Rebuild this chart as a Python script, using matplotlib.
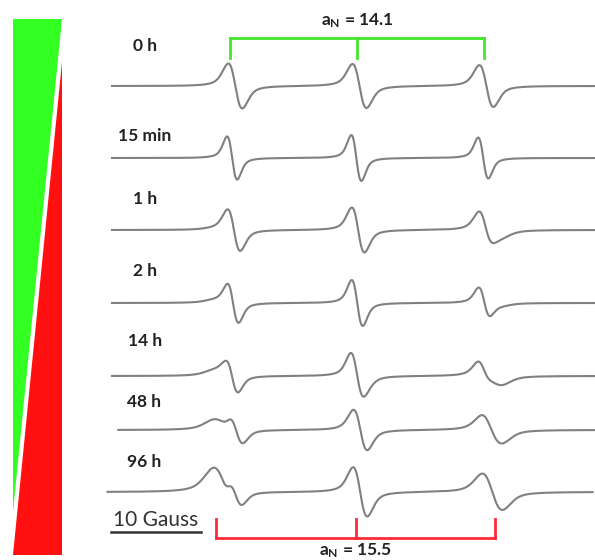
import numpy as np
import matplotlib.pyplot as plt
from matplotlib.patches import Polygon

plt.rcParams['font.family'] = ['Lato', 'DejaVu Sans']
plt.rcParams['mathtext.fontset'] = 'custom'
plt.rcParams['mathtext.rm'] = 'Lato'
plt.rcParams['mathtext.bf'] = 'Lato:bold'

# --- data ---
times = ['0 h', '15 min', '1 h', '2 h', '14 h', '48 h', '96 h']

# hyperfine line positions (Gauss, relative to the centre line)
green_centers = [-13.8, 0.0, 14.1]      # a_N = 14.1 species
red_centers = [-15.05, 0.1, 14.8]       # a_N = 15.5 species
red_width_lo = [2.4, 1.6, 2.2]          # half-widths below / above centre, as pp widths (G)
red_width_hi = [1.0, 1.6, 2.2]
red_skew = [0.3, 1.0, 1.0]              # negative lobe / positive lobe

# peak-to-peak heights (a.u.) of each line, one value per spectrum
green_l1 = [1.0, 0.96, 0.93, 0.88, 0.72, 0.58, 0.55]
green_l2 = [0.98, 1.02, 1.0, 1.02, 0.75, 0.45, 0.25]
green_l3 = [0.93, 0.91, 0.6, 0.62, 0.35, 0.12, 0.05]
red_l1 = [0.0, 0.0, 0.04, 0.09, 0.2, 0.4, 1.0]
red_l2 = [0.0, 0.0, 0.0, 0.0, 0.3, 0.45, 0.85]
red_l3 = [0.0, 0.0, 0.25, 0.08, 0.35, 0.55, 0.78]

green_width = [1.55, 1.12, 1.4, 1.22, 1.3, 1.45, 1.45]   # G
field_shift = [0.0, -0.35, -0.15, -0.25, -0.35, 0.1, 0.0]  # G
sweep_start = [-27.5, -27.5, -27.5, -27.5, -27.5, -26.8, -28.0]
sweep_end = [26.2, 26.2, 26.2, 26.2, 26.2, 26.2, 25.9]

aN_green = 14.1
aN_red = 15.5
scale_gauss = 10

# --- layout (pixels) ---
W, H = 595, 560
PX_PER_G = 9.0
X0 = 359.5
PX_PER_AU = 45
baseline_px = [86, 158, 230, 303, 376, 430, 492]
label_x = [133, 118, 133, 133, 128, 127, 127]
label_y = [46, 136, 199, 271, 341, 402, 462]

GREEN = '#33ff22'
RED = '#ff1111'
GREEN_BR = '#44e62a'
RED_BR = '#ff2a3a'
TRACE = '#808080'
TXT = '#222222'
ETA = 0.5   # Lorentzian fraction of the line shape


def dline(x, c, w):
    # first-derivative pseudo-Voigt, peak-to-peak height 1, peak-to-peak width w
    gl = w * np.sqrt(3) / 2
    u = (x - c) / gl
    lor = -u / (1 + u ** 2) ** 2 / 0.6495
    v = (x - c) / (w / 2)
    gau = -v * np.exp(-v ** 2 / 2) / 1.2131
    return ETA * lor + (1 - ETA) * gau


def red_line(x, k, amp):
    lo = dline(x, red_centers[k], red_width_lo[k])
    hi = dline(x, red_centers[k], red_width_hi[k]) * red_skew[k]
    return amp * np.where(x < red_centers[k], lo, hi)


fig = plt.figure(figsize=(W / 100, H / 100), dpi=100)

# decorations in pixel coordinates
deco = fig.add_axes([0, 0, 1, 1])
deco.set_xlim(0, W)
deco.set_ylim(H, 0)
deco.axis('off')
deco.add_patch(Polygon([[13, 19], [62, 19], [13, 512]], closed=True, color=GREEN, lw=0))
deco.add_patch(Polygon([[62, 62], [62, 555], [13, 555]], closed=True, color=RED, lw=0))

# spectra in Gauss
ax = fig.add_axes([0, 0, 1, 1])
ax.set_xlim(-X0 / PX_PER_G, (W - X0) / PX_PER_G)
ax.set_ylim(H, 0)
ax.axis('off')
ax.patch.set_alpha(0)

green_amp = np.array([green_l1, green_l2, green_l3]).T
red_amp = np.array([red_l1, red_l2, red_l3]).T

for i, t in enumerate(times):
    B = np.linspace(sweep_start[i], sweep_end[i], 1500)
    sig = np.zeros_like(B)
    for k in range(3):
        sig += green_amp[i, k] * dline(B, green_centers[k] + field_shift[i], green_width[i])
        sig += red_line(B, k, red_amp[i, k])
    ax.plot(B, baseline_px[i] - PX_PER_AU * sig, color=TRACE, lw=1.5)
    deco.text(label_x[i], label_y[i], t, fontsize=12.5, fontweight='bold',
              color=TXT, ha='left', va='center')

# hyperfine brackets
mid_g = -0.3
gx = [mid_g - aN_green, mid_g, mid_g + aN_green]
ax.plot([gx[0], gx[2]], [38, 38], color=GREEN_BR, lw=2)
for x in gx:
    ax.plot([x, x], [38, 58], color=GREEN_BR, lw=2)
ax.text(mid_g, 21, r'$\mathbf{a_N}$ = %.1f' % aN_green, fontsize=12.5,
        fontweight='bold', color=TXT, ha='center', va='center')

mid_r = -0.4
rx = [mid_r - aN_red, mid_r, mid_r + aN_red]
ax.plot([rx[0], rx[2]], [538, 538], color=RED_BR, lw=2)
for x in rx:
    ax.plot([x, x], [519, 538], color=RED_BR, lw=2)
ax.text(mid_r, 551, r'$\mathbf{a_N}$ = %.1f' % aN_red, fontsize=12.5,
        fontweight='bold', color=TXT, ha='center', va='center')

# 10 Gauss scale bar (the underline)
sb0 = (111 - X0) / PX_PER_G
ax.plot([sb0, sb0 + scale_gauss], [532, 532], color='#333333', lw=1.8)
ax.text(sb0 + scale_gauss / 2, 520, '%d Gauss' % scale_gauss, fontsize=15,
        color='#333333', ha='center', va='center')

fig.savefig('out.png', dpi=100)
